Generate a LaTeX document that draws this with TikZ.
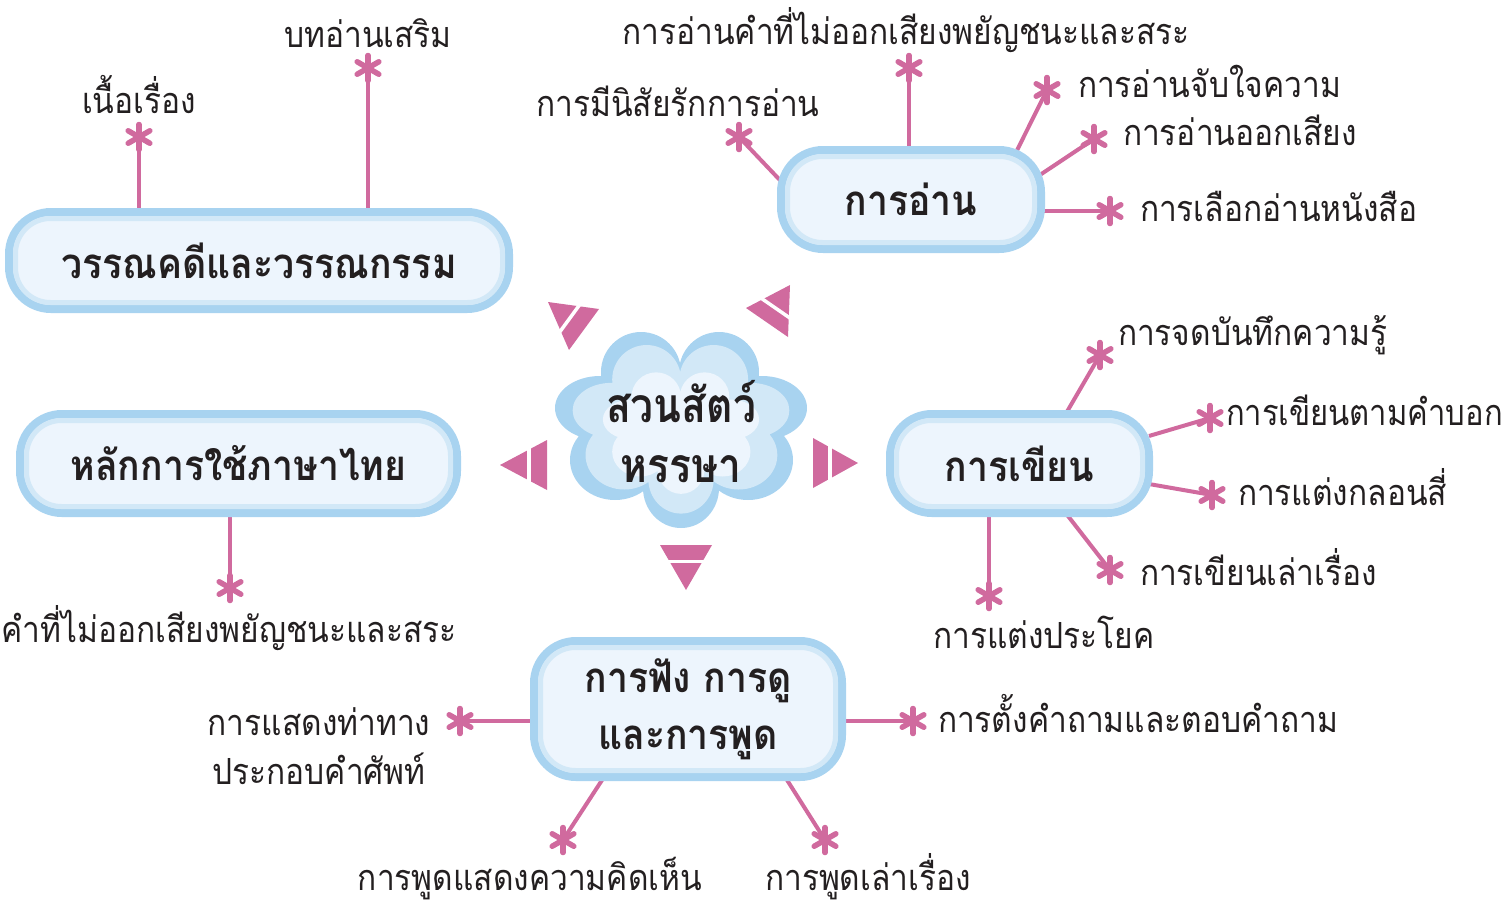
\documentclass[tikz,border=0pt]{standalone}
\usepackage{fontspec}
\newfontfamily\thai[Script=Thai,FakeStretch=0.88]{Loma}
\newfontfamily\thainarrow[Script=Thai,FakeStretch=0.86]{Loma}
\newfontfamily\thaibold[Script=Thai,FakeStretch=0.89]{Loma}
\newfontfamily\thaihub[Script=Thai,FakeStretch=0.85]{Loma}
\usetikzlibrary{calc}
\definecolor{pk}{HTML}{D06A9E}
\definecolor{bb}{HTML}{A8D3F0}
\definecolor{bl}{HTML}{D2E8F7}
\definecolor{bf}{HTML}{EDF5FD}
\definecolor{tx}{HTML}{231F20}
\pgfdeclarelayer{bg}
\pgfsetlayers{bg,main}
\begin{document}
\begin{tikzpicture}[x=1pt,y=-1pt,
 box/.style={rectangle, rounded corners=42pt, draw=bb, line width=8pt, fill=bf, outer sep=0pt, inner sep=0pt,
   font=\thaibold\bfseries\fontsize{42}{57}\selectfont, text=tx, align=center},
 lab/.style={font=\thai\fontsize{36}{49}\selectfont, text=tx, inner sep=0pt, outer sep=0pt},
 conn/.style={draw=pk, line width=4pt},
 starnode/.style={circle, minimum size=26pt, inner sep=0pt},
 spoke/.style={draw=pk, line width=5.5pt, line cap=round},
 pinktri/.style={fill=pk},
 gap/.style={draw=white, line width=3.5pt, shorten <=-4pt, shorten >=-4pt}
]
\useasboundingbox (0,0) rectangle (1507,903);

% ---------- central cloud ----------
\def\petals{
  (641,372) ellipse [x radius=40, y radius=40]
  (719,372) ellipse [x radius=40, y radius=40]
  (600,408) ellipse [x radius=45, y radius=32]
  (762,408) ellipse [x radius=45, y radius=32]
  (615,460) ellipse [x radius=45, y radius=40]
  (748,460) ellipse [x radius=45, y radius=40]
  (681,488) ellipse [x radius=38, y radius=40]
  (681,425) ellipse [x radius=80, y radius=62]
}
\fill[bb] \petals;
\begin{scope}[shift={(681,425)}, scale=0.86, shift={(-681,-425)}]
  \fill[bl] \petals;
\end{scope}
\begin{scope}[shift={(681,430)}, scale=0.62, shift={(-681,-425)}]
  \fill[bf] \petals;
\end{scope}
\node[font=\thaihub\bfseries\fontsize{48}{60}\selectfont, text=tx, align=center, inner sep=0pt] (hub) at (681,432) {สวนสัตว์\\หรรษา};

% ---------- pink pointers ----------
\fill[pinktri] (548,302) -- (599,309) -- (569,350) -- cycle;
\draw[gap] ($(599,309)!0.40!(548,302)$) -- ($(569,350)!0.40!(548,302)$);
\fill[pinktri] (790,285) -- (746,308) -- (788,337) -- cycle;
\draw[gap] ($(746,308)!0.38!(790,285)$) -- ($(788,337)!0.38!(790,285)$);
\fill[pinktri] (858,463) -- (813,438) -- (813,488) -- cycle;
\draw[gap] ($(813,438)!0.38!(858,463)$) -- ($(813,488)!0.38!(858,463)$);
\fill[pinktri] (500,465) -- (547,440) -- (547,490) -- cycle;
\draw[gap] ($(547,440)!0.38!(500,465)$) -- ($(547,490)!0.38!(500,465)$);
\fill[pinktri] (686,590) -- (660,545) -- (712,545) -- cycle;
\draw[gap] ($(660,545)!0.37!(686,590)$) -- ($(712,545)!0.37!(686,590)$);

% ---------- boxes ----------
\node[box, minimum width=500pt, minimum height=97pt] (lit) at (259,260.5) {วรรณคดีและวรรณกรรม};
\node[box, minimum width=260pt, minimum height=99pt] (read) at (911,199.5) {การอ่าน};
\node[box, minimum width=437pt, minimum height=99pt] (rule) at (238.5,463.5) {หลักการใช้ภาษาไทย};
\node[box, minimum width=259pt, minimum height=99pt] (write) at (1019.5,463.5) {การเขียน};
\node[box, minimum width=308pt, minimum height=136pt] (listen) at (688,709) {การฟัง การดู\\และการพูด};
\foreach \n in {lit,read,rule,write,listen}
  \draw[bl, line width=5pt, rounded corners=35pt] ([shift={(6.5,6.5)}]\n.north west) rectangle ([shift={(-6.5,-6.5)}]\n.south east);

% ---------- asterisk nodes ----------
\node[starnode] (a1) at (139,137) {};
\node[starnode] (a2) at (368,68) {};
\node[starnode] (b1) at (909,68) {};
\node[starnode] (b2) at (739,137) {};
\node[starnode] (b3) at (1047,90) {};
\node[starnode] (b4) at (1094,139) {};
\node[starnode] (b5) at (1110,211) {};
\node[starnode] (c1) at (230,588) {};
\node[starnode] (d1) at (1100,355) {};
\node[starnode] (d2) at (1210,418) {};
\node[starnode] (d3) at (1212,495) {};
\node[starnode] (d4) at (1110,570) {};
\node[starnode] (d5) at (989,596) {};
\node[starnode] (e1) at (460,721) {};
\node[starnode] (e2) at (913,721) {};
\node[starnode] (e3) at (563,840) {};
\node[starnode] (e4) at (825,840) {};

% ---------- connectors ----------
\begin{pgfonlayer}{bg}
\draw[conn] (a1.center) -- (a1 |- lit.north);
\draw[conn] (a2.center) -- (a2 |- lit.north);
\draw[conn] (b1.center) -- (b1 |- read.north);
\draw[conn] (b2.center) -- (read.172);
\draw[conn] (b3.center) -- (read.25);
\draw[conn] (b4.center) -- (read.11);
\draw[conn] (b5.center) -- (b5 -| read.east);
\draw[conn] (c1.center) -- (c1 |- rule.south);
\draw[conn] (d1.center) -- (write.47);
\draw[conn] (d2.center) -- (write.12);
\draw[conn] (d3.center) -- (write.-9);
\draw[conn] (d4.center) -- (write.-47);
\draw[conn] (d5.center) -- (d5 |- write.south);
\draw[conn] (e1.center) -- (e1 -| listen.west);
\draw[conn] (e2.center) -- (e2 -| listen.east);
\draw[conn] (e3.center) -- (listen.219);
\draw[conn] (e4.center) -- (listen.-35);
\end{pgfonlayer}

\foreach \s in {a1,a2,b1,b2,b3,b4,b5,c1,d1,d2,d3,d4,d5,e1,e2,e3,e4}
  \foreach \a in {90,30,150}
    \draw[spoke] ([shift={(\a:12.5)}]\s.center) -- ([shift={(\a+180:12.5)}]\s.center);

% ---------- labels ----------
\node[lab, anchor=base] (ta1) at (139,113) {เนื้อเรื่อง};
\node[lab, anchor=base] (ta2) at (368,47) {บทอ่านเสริม};
\node[lab, anchor=base] (tb1) at (906,44) {การอ่านคำที่ไม่ออกเสียงพยัญชนะและสระ};
\node[lab, anchor=base] (tb2) at (678,116) {การมีนิสัยรักการอ่าน};
\node[lab, anchor=base west] (tb3) at (1078,97) {การอ่านจับใจความ};
\node[lab, anchor=base west] (tb4) at (1123,145) {การอ่านออกเสียง};
\node[lab, anchor=base west] (tb5) at (1140,221) {การเลือกอ่านหนังสือ};
\node[lab, anchor=base] (tc1) at (229,642) {คำที่ไม่ออกเสียงพยัญชนะและสระ};
\node[lab, anchor=base west] (td1) at (1118,345) {การจดบันทึกความรู้};
\node[lab, anchor=base west, font=\thainarrow\fontsize{36}{49}\selectfont] (td2) at (1226,425) {การเขียนตามคำบอก};
\node[lab, anchor=base west] (td3) at (1238,505) {การแต่งกลอนสี่};
\node[lab, anchor=base west] (td4) at (1140,585) {การเขียนเล่าเรื่อง};
\node[lab, anchor=base] (td5) at (1044,648) {การแต่งประโยค};
\node[lab, align=center] (te1) at (319,746) {การแสดงท่าทาง\\ประกอบคำศัพท์};
\node[lab, anchor=base west] (te2) at (938,732) {การตั้งคำถามและตอบคำถาม};
\node[lab, anchor=base] (te3) at (530,890) {การพูดแสดงความคิดเห็น};
\node[lab, anchor=base] (te4) at (868,890) {การพูดเล่าเรื่อง};
\end{tikzpicture}
\end{document}
